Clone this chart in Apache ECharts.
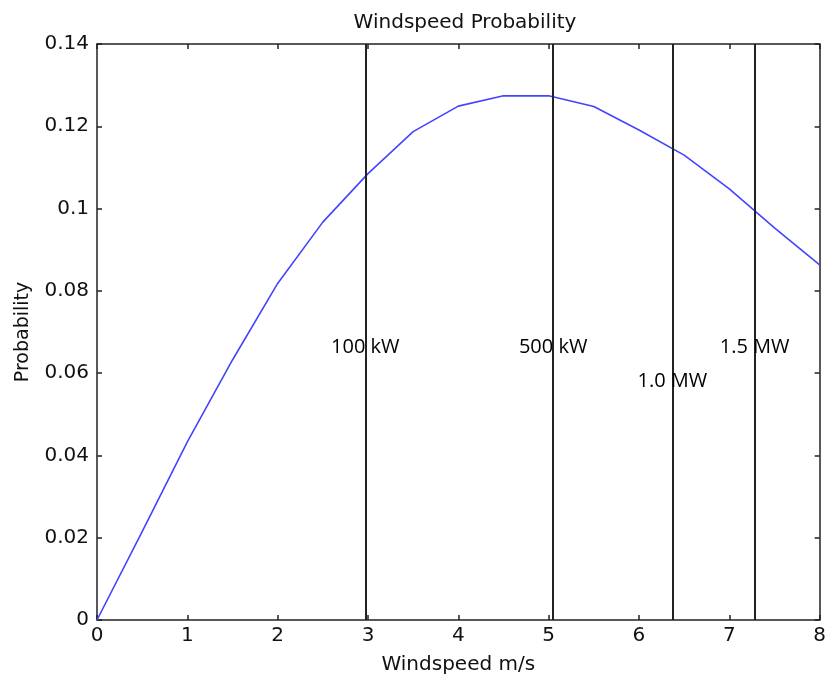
<!DOCTYPE html>
<html>
<head>
<meta charset="utf-8">
<script src="https://cdn.jsdelivr.net/npm/echarts@6/dist/echarts.min.js"></script>
<style>html,body{margin:0;padding:0;background:#fff}#c{width:829px;height:681px}</style>
</head>
<body>
<div id="c"></div>
<script>
// Curve: windspeed (m/s) vs probability
const windspeed = [0, 0.5, 1, 1.5, 2, 2.5, 3, 3.5, 4, 4.5, 5, 5.5, 6, 6.5, 7, 7.5, 8];
const probability = [0, 0.0215, 0.0433, 0.0632, 0.0818, 0.0967, 0.1085, 0.1187, 0.1249, 0.1274, 0.1274, 0.1248, 0.1191, 0.1130, 0.1048, 0.0953, 0.0863];
// Turbine rated-speed markers
const turbineNames = ['100 kW', '500 kW', '1.0 MW', '1.5 MW'];
const turbineSpeeds = [2.97, 5.05, 6.37, 7.28];
const turbineLabelY = [0.0664, 0.0664, 0.0581, 0.0664];
const xTicks = [0, 1, 2, 3, 4, 5, 6, 7, 8];
const yTicks = [0, 0.02, 0.04, 0.06, 0.08, 0.1, 0.12, 0.14];

const chart = echarts.init(document.getElementById('c'), null, {renderer: 'canvas'});
const axisFont = 'DejaVu Sans';
const common = {
  axisLine: {show: true, onZero: false, lineStyle: {color: '#222', width: 1.5}},
  axisTick: {show: true, inside: true, length: 5, lineStyle: {color: '#222', width: 1.5}},
  splitLine: {show: false}
};
chart.setOption({
  animation: false,
  backgroundColor: '#fff',
  title: {
    text: 'Windspeed Probability',
    left: 460, top: 8, textAlign: 'center',
    textStyle: {fontFamily: axisFont, fontSize: 20, fontWeight: 'normal', color: '#111'}
  },
  grid: {left: 97, right: 6, top: 44, bottom: 61, containLabel: false},
  xAxis: [
    Object.assign({
      type: 'value', min: xTicks[0], max: xTicks[xTicks.length - 1], interval: 1, position: 'bottom',
      name: 'Windspeed m/s', nameLocation: 'middle', nameGap: 35,
      nameTextStyle: {fontFamily: axisFont, fontSize: 20, color: '#111'},
      axisLabel: {fontFamily: axisFont, fontSize: 20, color: '#111', margin: 6}
    }, common),
    Object.assign({
      type: 'value', min: xTicks[0], max: xTicks[xTicks.length - 1], interval: 1, position: 'top',
      axisLabel: {show: false}
    }, common)
  ],
  yAxis: [
    Object.assign({
      type: 'value', min: yTicks[0], max: yTicks[yTicks.length - 1], interval: 0.02, position: 'left',
      name: 'Probability', nameLocation: 'middle', nameGap: 64, nameRotate: 90,
      nameTextStyle: {fontFamily: axisFont, fontSize: 19, color: '#111'},
      axisLabel: {fontFamily: axisFont, fontSize: 20, color: '#111', margin: 8}
    }, common),
    Object.assign({
      type: 'value', min: yTicks[0], max: yTicks[yTicks.length - 1], interval: 0.02, position: 'right',
      axisLabel: {show: false}
    }, common)
  ],
  series: [
    {
      type: 'line',
      data: windspeed.map((v, i) => [v, probability[i]]),
      showSymbol: false, symbol: 'none',
      lineStyle: {color: '#4444ff', width: 1.6},
      z: 3,
      markLine: {
        silent: true, symbol: 'none', label: {show: false},
        lineStyle: {color: '#222', width: 2, type: 'solid'},
        data: turbineSpeeds.map(v => ({xAxis: v}))
      }
    },
    {
      type: 'scatter',
      symbolSize: 0,
      data: turbineSpeeds.map((v, i) => ({value: [v, turbineLabelY[i]], name: turbineNames[i]})),
      label: {
        show: true, position: 'inside', formatter: p => p.name,
        fontFamily: 'Open Sans', fontSize: 20, color: '#000', opacity: 1
      },
      itemStyle: {opacity: 1},
      emphasis: {disabled: true},
      z: 5
    }
  ]
});
</script>
</body>
</html>
